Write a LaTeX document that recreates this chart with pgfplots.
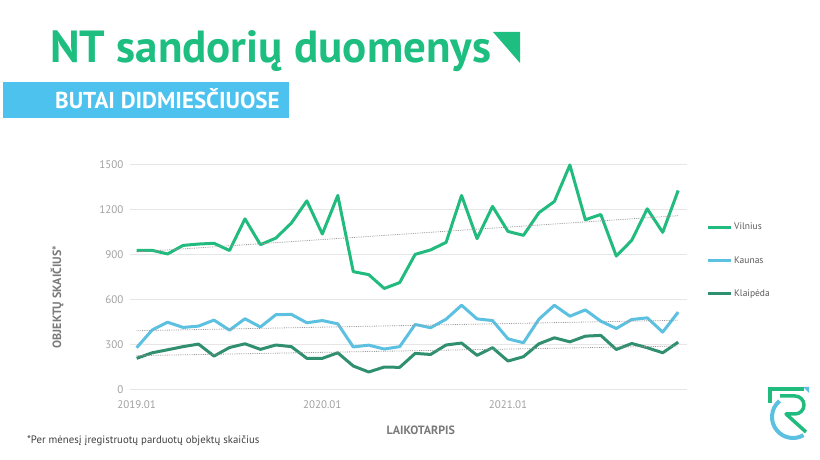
\documentclass[border=0pt]{standalone}
\usepackage{fontspec}
\setmainfont{PT Sans}
\usepackage{pgfplots}
\pgfplotsset{compat=1.18}
\usepackage{pgfplotstable}
\usepackage{xcolor}

\definecolor{vilnius}{HTML}{22BB7E}
\definecolor{kaunas}{HTML}{5CC0E0}
\definecolor{klaipeda}{HTML}{2F8F6E}
\definecolor{titlegreen}{HTML}{1DBE80}
\definecolor{bannerblue}{HTML}{4EC2EE}
\definecolor{tickgray}{HTML}{A0A0A0}
\definecolor{labgray}{HTML}{7A7A7A}
\definecolor{gridgray}{HTML}{E6E6E6}
\definecolor{trendgray}{HTML}{9A9A9A}

% month index (0 = 2019.01), registered deals
\pgfplotstableread{
i  vil   kau  kla
0  930   282  211
1  931   400  248
2  907   452  268
3  964   417  289
4  973   426  306
5  978   466  226
6  930   399  283
7  1141  475  308
8  969   420  271
9  1013  502  300
10 1113  504  289
11 1261  448  211
12 1040  463  211
13 1297  441  248
14 789   287  160
15 769   299  120
16 677   273  153
17 716   289  151
18 904   437  244
19 934   415  237
20 984   472  300
21 1297  565  313
22 1009  474  231
23 1224  463  282
24 1057  341  193
25 1031  315  222
26 1182  472  308
27 1257  565  348
28 1500  492  321
29 1135  534  359
30 1170  459  364
31 893   410  270
32 998   470  310
33 1208  481  282
34 1051  386  248
35 1330  519  319
}\datatable

\begin{document}
\begin{tikzpicture}[x=1pt,y=1pt]
\path[use as bounding box] (0,0) rectangle (820,460);

% header
\node[anchor=base west, inner sep=0, text=titlegreen,
      font=\fontsize{45}{45}\selectfont\bfseries] at (50,397) {NT sandorių duomenys};
\fill[titlegreen] (493,428) -- (520,428) -- (520,397) -- cycle;
\fill[bannerblue] (3,342) rectangle (289,378);
\node[anchor=base west, inner sep=0, text=white,
      font=\fontsize{23}{23}\selectfont\bfseries] at (55,351) {BUTAI DIDMIESČIUOSE};

\begin{axis}[
  at={(130pt,70pt)}, anchor=south west,
  scale only axis,
  width=557pt, height=225pt,
  xmin=-0.43, xmax=35.57,
  ymin=0, ymax=1500,
  clip=false,
  xtick={0,12,24},
  xticklabels={2019.01,2020.01,2021.01},
  ytick={0,300,...,1500},
  /pgf/number format/1000 sep={},
  /pgf/number format/assume math mode=true,
  tick style={draw=none},
  axis line style={draw=none},
  ymajorgrids=true,
  grid style={gridgray, line width=1pt},
  ticklabel style={font=\fontsize{11}{13}\selectfont, text=tickgray},
  yticklabel style={xshift=-3pt},
  xticklabel style={yshift=-7pt},
  xlabel={LAIKOTARPIS},
  ylabel={OBJEKTŲ SKAIČIUS*},
  xlabel style={at={(axis description cs:0.522,-0.178)}, anchor=center,
                font=\fontsize{12}{13}\selectfont\bfseries, text=labgray},
  ylabel style={at={(axis description cs:-0.131,0.413)}, anchor=center,
                font=\fontsize{12}{13}\selectfont\bfseries, text=labgray},
  legend style={at={(1,1)}, anchor=north west, xshift=16pt, yshift=-54pt,
                draw=none, fill=none, row sep=21pt,
                font=\fontsize{9.5}{11}\selectfont, text=black!65},
  legend cell align=left,
  legend image code/.code={\draw[#1] (0pt,0pt) -- (23pt,0pt);},
]
\addplot[vilnius, line width=3pt, line join=round] table[x=i, y=vil] {\datatable};
\addlegendentry{Vilnius}
\addplot[kaunas, line width=3pt, line join=round] table[x=i, y=kau] {\datatable};
\addlegendentry{Kaunas}
\addplot[klaipeda, line width=3pt, line join=round] table[x=i, y=kla] {\datatable};
\addlegendentry{Klaipėda}
% linear trends
\addplot[trendgray, densely dotted, line width=0.8pt, forget plot] coordinates {(0,920) (35,1162)};
\addplot[trendgray, densely dotted, line width=0.8pt, forget plot] coordinates {(0,395) (35,465)};
\addplot[trendgray, densely dotted, line width=0.8pt, forget plot] coordinates {(0,229) (35,293)};
\end{axis}

% footnote
\node[anchor=base west, inner sep=0, text=black!75,
      font=\fontsize{10.8}{12}\selectfont] at (27,16)
      {*Per mėnesį įregistruotų parduotų objektų skaičius};

% logo
\draw[kaunas, line width=4pt] (793,43) ++(130:21) arc (130:300:21);
\fill[kaunas] (803,73) -- (809,73) -- (809,67) -- cycle;
\draw[vilnius, line width=3.5pt] (768,71) -- (804,71);
\draw[vilnius, line width=3.5pt] (770,71) -- (770,57);
\draw[vilnius, line width=3.5pt, line join=round] (780,64) -- (795,64) arc (90:-90:9) -- (786,46) -- (806,28);
\end{tikzpicture}
\end{document}
